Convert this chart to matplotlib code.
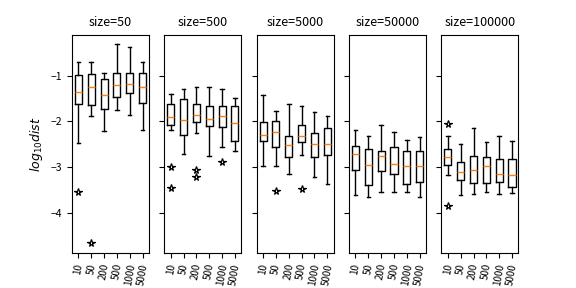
import matplotlib
matplotlib.use("Agg")
import matplotlib.pyplot as plt

plt.rcParams['font.family'] = ['Noto Sans CJK JP', 'DejaVu Sans']

sizes = ["50", "500", "5000", "50000", "100000"]
labels = ["10", "50", "200", "500", "1000", "5000"]

# per panel: whisker low, q1, median, q3, whisker high, outliers
whislo = [
    [-2.47, -1.89, -2.22, -1.75, -1.85, -2.19],
    [-2.18, -2.71, -2.26, -2.75, -2.57, -2.64],
    [-2.99, -2.99, -3.16, -2.74, -3.23, -3.38],
    [-3.62, -3.65, -3.56, -3.54, -3.56, -3.65],
    [-3.18, -3.62, -3.60, -3.56, -3.60, -3.58],
]
q1 = [
    [-1.62, -1.65, -1.73, -1.47, -1.38, -1.60],
    [-2.09, -2.29, -2.02, -2.11, -2.13, -2.44],
    [-2.42, -2.57, -2.79, -2.46, -2.79, -2.73],
    [-3.06, -3.40, -3.08, -3.15, -3.38, -3.32],
    [-2.95, -3.28, -3.36, -3.35, -3.32, -3.45],
]
med = [
    [-1.36, -1.25, -1.43, -1.21, -1.18, -1.25],
    [-1.91, -1.97, -1.87, -1.95, -1.89, -2.04],
    [-2.29, -2.24, -2.51, -2.33, -2.49, -2.49],
    [-2.71, -2.95, -2.76, -2.93, -2.99, -2.99],
    [-2.79, -3.12, -3.06, -2.99, -3.15, -3.17],
]
q3 = [
    [-0.99, -0.96, -1.07, -0.94, -0.94, -0.94],
    [-1.61, -1.50, -1.62, -1.67, -1.67, -1.67],
    [-2.02, -2.00, -2.31, -2.09, -2.26, -2.15],
    [-2.53, -2.60, -2.64, -2.57, -2.64, -2.66],
    [-2.60, -2.90, -2.76, -2.79, -2.82, -2.82],
]
whishi = [
    [-0.70, -0.70, -0.94, -0.30, -0.375, -0.70],
    [-1.41, -1.28, -1.25, -1.25, -1.29, -1.49],
    [-1.43, -1.78, -1.62, -1.67, -1.80, -1.89],
    [-2.20, -2.32, -2.09, -2.24, -2.40, -2.35],
    [-2.33, -2.49, -2.15, -2.46, -2.33, -2.44],
]
fliers = [
    [[-3.56], [-4.67], [], [], [], []],
    [[-3.0, -3.47], [], [-3.07, -3.22], [], [-2.90], []],
    [[], [-3.52], [], [-3.49], [], []],
    [[], [], [], [], [], []],
    [[-2.06, -3.85], [], [], [], [], []],
]

fig, axes = plt.subplots(1, 5, sharey=True, figsize=(5.76, 2.88), dpi=100)
fig.subplots_adjust(left=0.125, right=0.9, top=0.88, bottom=0.122, wspace=0.2)

for i, ax in enumerate(axes):
    stats = []
    for j in range(len(labels)):
        stats.append(dict(whislo=whislo[i][j], q1=q1[i][j], med=med[i][j],
                          q3=q3[i][j], whishi=whishi[i][j], fliers=fliers[i][j],
                          label=labels[j]))
    ax.bxp(stats, widths=0.55,
           flierprops=dict(marker='*', markerfacecolor='none',
                           markeredgecolor='black', markersize=5.5, markeredgewidth=0.9),
           medianprops=dict(color='#ff7f0e'))
    ax.set_title("size=" + sizes[i], fontsize=9)
    ax.tick_params(axis='x', labelrotation=80, labelsize=7)
    ax.tick_params(axis='y', labelsize=7.5)

axes[0].set_ylim(-4.885, -0.095)
axes[0].set_yticks([-1, -2, -3, -4])
axes[0].set_ylabel("$log_{10}dist$", fontsize=9)

fig.savefig("out.png", dpi=100)
